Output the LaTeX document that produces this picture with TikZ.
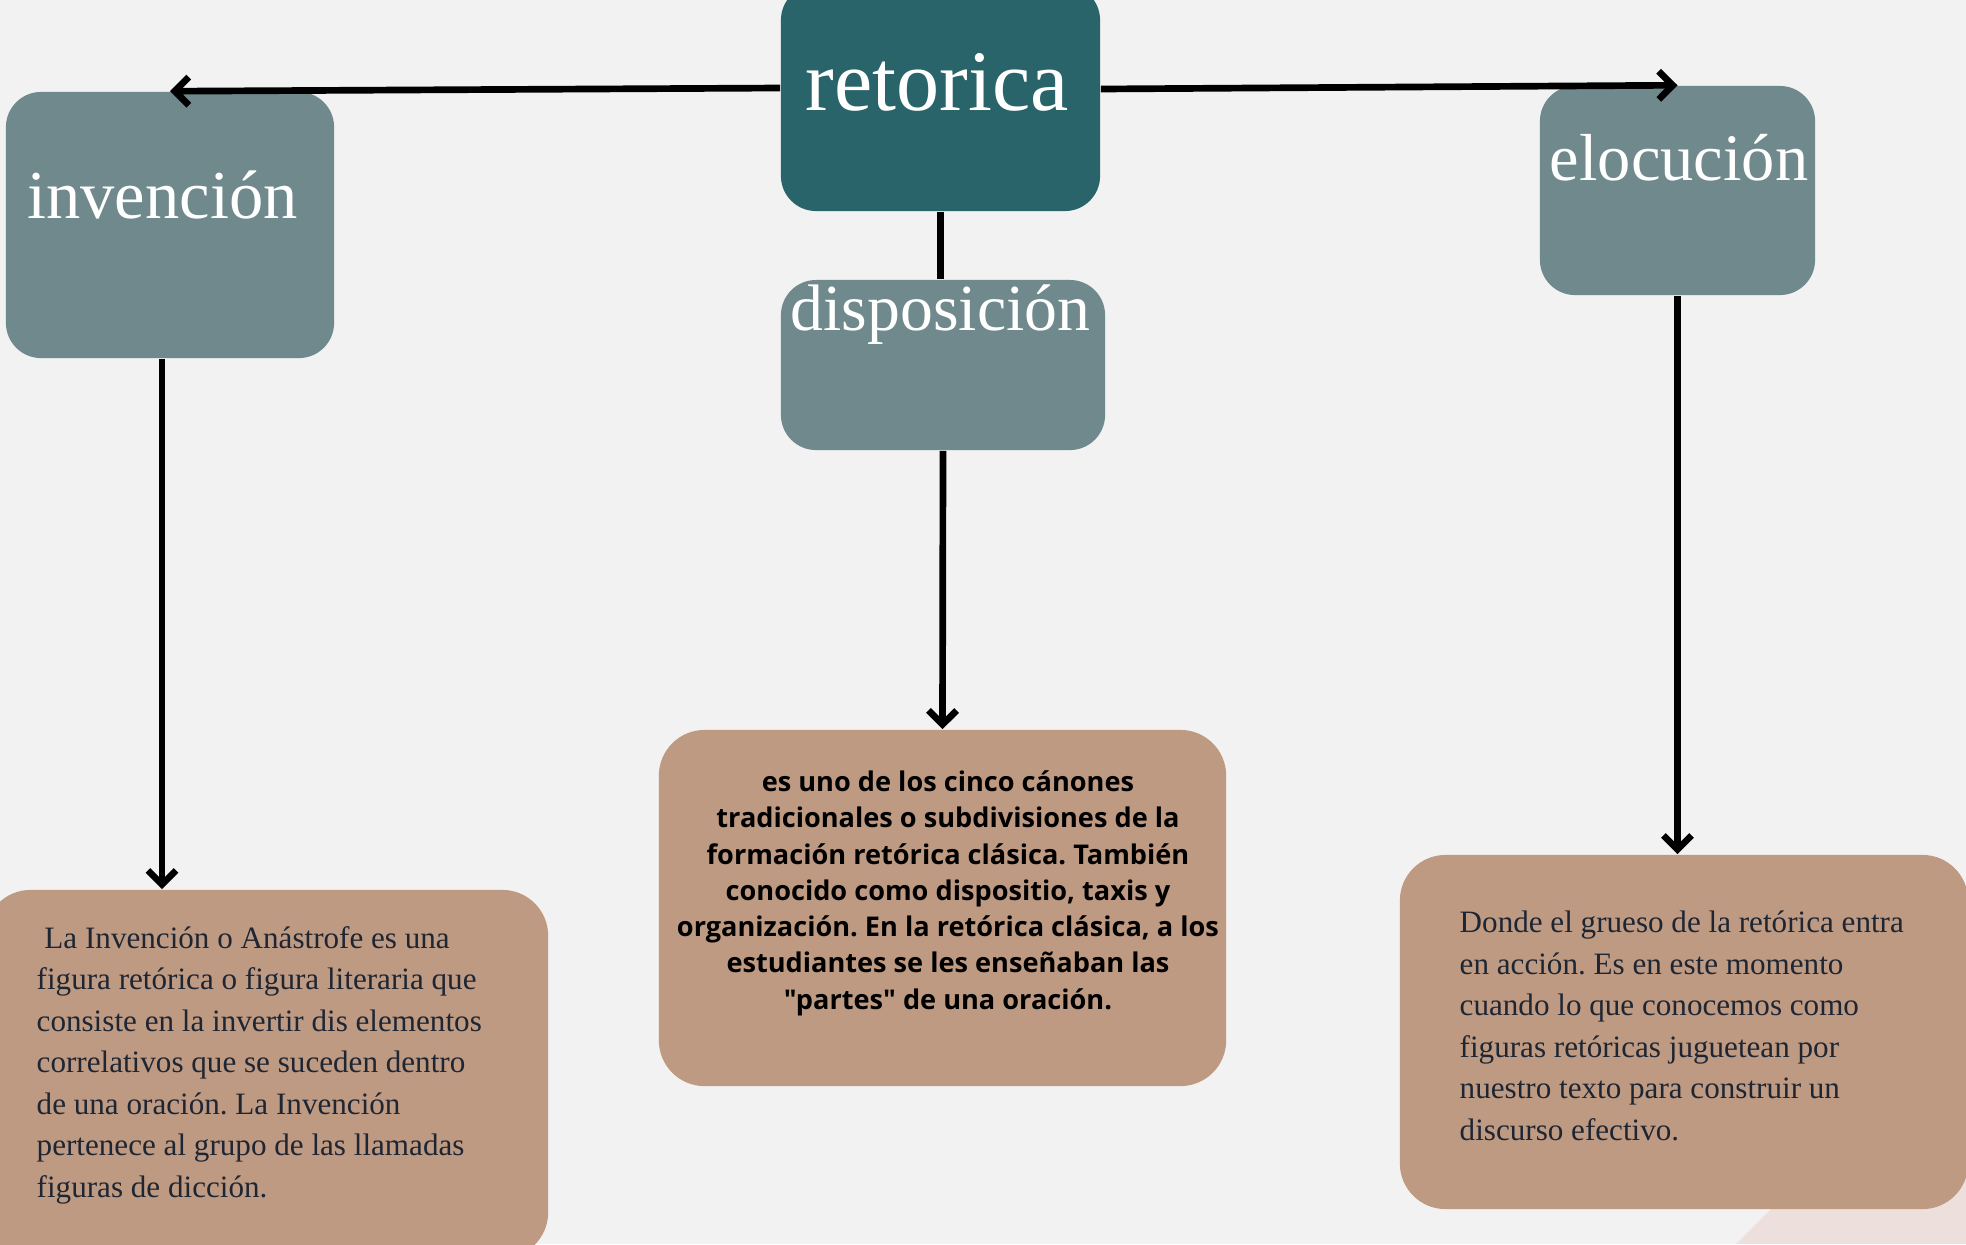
\documentclass[tikz,border=0pt]{standalone}
\usepackage{fontspec}
\usepackage{xcolor}
\usepackage{tikz}
\usetikzlibrary{arrows.meta}
\setmainfont{Liberation Serif}
\newfontfamily\opensans{Open Sans}
\frenchspacing

\definecolor{bgcol}{HTML}{F2F2F2}
\definecolor{tealdark}{HTML}{2A646B}
\definecolor{tealgrey}{HTML}{6F898C}
\definecolor{boxtan}{HTML}{BE9A82}
\definecolor{softpink}{HTML}{EDE0DC}
\definecolor{inkblue}{HTML}{1E2533}

\begin{document}
\begin{tikzpicture}[x=0.01cm, y=-0.01cm,
        top node/.style={rounded corners=10pt, inner sep=0pt},
        T node/.style={top node, fill=tealgrey},
        txt node/.style={rounded corners=13pt, fill=boxtan, inner sep=0pt},
        title/.style={text=white, inner sep=0pt, anchor=base},
        body/.style={text=inkblue, inner sep=0pt, anchor=base west, align=left,
            font=\fontsize{8.85}{11.8}\selectfont},
        conn/.style={line width=1.9pt, -{Straight Barb[length=4pt, width=8pt]}}]

    \useasboundingbox (0,0) rectangle (1966,1244);
    \clip (0,0) rectangle (1966,1244);
    \fill[bgcol] (0,0) rectangle (1966,1244);
    \fill[softpink] (1736,1244) -- (1900,1080) -- (1966,1080) -- (1966,1244) -- cycle;

    \node[top node, fill=tealdark, minimum width=3.19cm, minimum height=2.26cm] (ret) at (940.5,98) {};
    \node[T node, minimum width=3.28cm, minimum height=2.66cm] (inv) at (170,225) {};
    \node[T node, minimum width=3.24cm, minimum height=1.70cm] (dis) at (943,365) {};
    \node[T node, minimum width=2.75cm, minimum height=2.09cm] (elo) at (1677.5,190.5) {};

    \node[title, font=\fontsize{24.5}{28}\selectfont] (retlbl) at (937,110) {retorica};
    \node[title, font=\fontsize{19.5}{23}\selectfont] (invlbl) at (162.5,218) {invención};
    \node[title, font=\fontsize{18.7}{22}\selectfont] (dislbl) at (940.5,330) {disposición};
    \node[title, font=\fontsize{18.9}{22}\selectfont] (elolbl) at (1679,180) {elocución};

    \node[txt node, minimum width=5.63cm, minimum height=3.68cm] (invbox) at (266.5,1074) {};
    \node[txt node, minimum width=5.67cm, minimum height=3.56cm] (disbox) at (942.5,908) {};
    \node[txt node, minimum width=5.68cm, minimum height=3.54cm] (elobox) at (1684,1032) {};

    \node[body] (invtxt) at (36,1197) {\ La Invención o Anástrofe es una\\
        figura retórica o figura literaria que\\
        consiste en la invertir dis elementos\\
        correlativos que se suceden dentro\\
        de una oración. La Invención\\
        pertenece al grupo de las llamadas\\
        figuras de dicción.};
    \node[inner sep=0pt, anchor=base, align=center,
        font=\opensans\bfseries\fontsize{7.72}{10.3}\selectfont] (distxt) at (948,1009)
        {es uno de los cinco cánones\\
        tradicionales o subdivisiones de la\\
        formación retórica clásica. También\\
        conocido como dispositio, taxis y\\
        organización. En la retórica clásica, a los\\
        estudiantes se les enseñaban las\\
        "partes" de una oración.};
    \node[body] (elotxt) at (1459,1140) {Donde el grueso de la retórica entra\\
        en acción. Es en este momento\\
        cuando lo que conocemos como\\
        figuras retóricas juguetean por\\
        nuestro texto para construir un\\
        discurso efectivo.};

    \path[conn]
    ([yshift=0.1cm]ret.west) edge (inv.north)
    ([yshift=0.09cm]ret.east) edge (elo.north)
    (ret.south) edge[-] (ret.south |- dis.north)
    ([xshift=-0.08cm]inv.south) edge ([xshift=-0.08cm]inv.south |- invbox.north)
    (dis.south) edge (disbox.north)
    (elo.south) edge (elo.south |- elobox.north)
    ;
\end{tikzpicture}
\end{document}
